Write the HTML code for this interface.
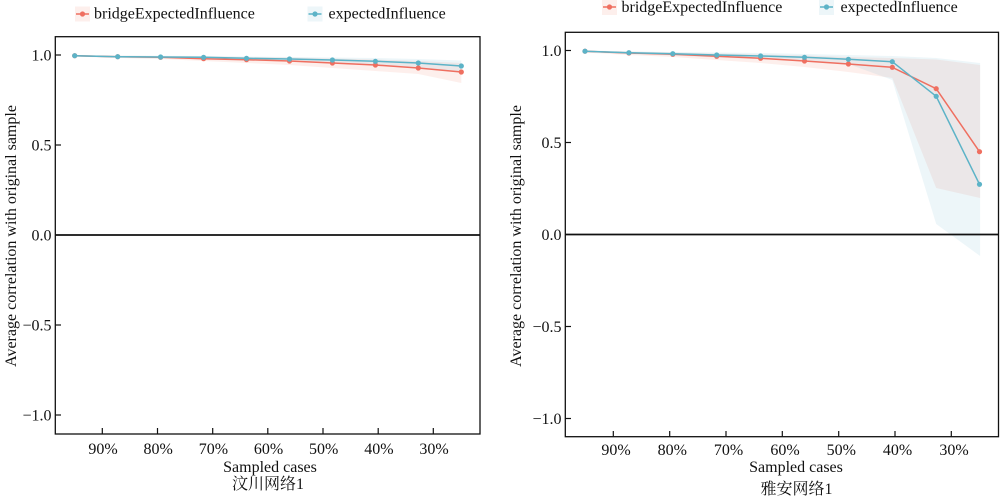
<!DOCTYPE html>
<html><head><meta charset="utf-8"><style>
html,body{margin:0;padding:0;background:#fff;}
svg{display:block;}
text{font-family:"Liberation Serif","Noto Serif CJK SC","Noto Sans CJK SC",serif;font-size:16px;fill:#111;}
</style></head><body>
<svg width="1000" height="497" viewBox="0 0 1000 497" xmlns="http://www.w3.org/2000/svg">
<!-- LEFT PANEL -->
<g>
<!-- bands -->
<polygon fill="rgba(240,120,100,0.12)" points="74.7,55 117.7,55.7 160.6,56 203.6,56.5 246.5,57 289.5,57.5 332.4,58.5 375.4,59.5 418.3,61 461.3,63 461.3,83 418.3,74 375.4,71 332.4,68 289.5,65 246.5,63 203.6,61 160.6,59 117.7,58 74.7,56.5"/>
<polygon fill="rgba(80,170,200,0.10)" points="74.7,55 117.7,55.5 160.6,55.8 203.6,56 246.5,56.5 289.5,57 332.4,57.5 375.4,58 418.3,59 461.3,60.5 461.3,72 418.3,67 375.4,65 332.4,63 289.5,61.5 246.5,60.5 203.6,59 160.6,58.5 117.7,57.8 74.7,56.5"/>
<!-- zero line -->
<line x1="55" y1="235" x2="480" y2="235" stroke="#111" stroke-width="1.8"/>
<!-- red series -->
<polyline fill="none" stroke="#EF6F60" stroke-width="1.5" points="74.7,55.7 117.7,56.7 160.6,57.3 203.6,58.7 246.5,59.7 289.5,61 332.4,63 375.4,65 418.3,68 461.3,72"/>
<g fill="#EF6F60">
<circle cx="74.7" cy="55.7" r="2.6"/><circle cx="117.7" cy="56.7" r="2.6"/><circle cx="160.6" cy="57.3" r="2.6"/><circle cx="203.6" cy="58.7" r="2.6"/><circle cx="246.5" cy="59.7" r="2.6"/><circle cx="289.5" cy="61" r="2.6"/><circle cx="332.4" cy="63" r="2.6"/><circle cx="375.4" cy="65" r="2.6"/><circle cx="418.3" cy="68" r="2.6"/><circle cx="461.3" cy="72" r="2.6"/>
</g>
<!-- blue series -->
<polyline fill="none" stroke="#5CB3C7" stroke-width="1.5" points="74.7,55.7 117.7,56.7 160.6,57 203.6,57.3 246.5,58.3 289.5,59 332.4,60 375.4,61.3 418.3,63 461.3,66"/>
<g fill="#5CB3C7">
<circle cx="74.7" cy="55.7" r="2.6"/><circle cx="117.7" cy="56.7" r="2.6"/><circle cx="160.6" cy="57" r="2.6"/><circle cx="203.6" cy="57.3" r="2.6"/><circle cx="246.5" cy="58.3" r="2.6"/><circle cx="289.5" cy="59" r="2.6"/><circle cx="332.4" cy="60" r="2.6"/><circle cx="375.4" cy="61.3" r="2.6"/><circle cx="418.3" cy="63" r="2.6"/><circle cx="461.3" cy="66" r="2.6"/>
</g>
<!-- box -->
<rect x="55.3" y="36.7" width="424.7" height="397.3" fill="none" stroke="#111" stroke-width="1.3"/>
<!-- y ticks -->
<g stroke="#111" stroke-width="1.2">
<line x1="55" y1="55" x2="61" y2="55"/><line x1="55" y1="145" x2="61" y2="145"/><line x1="55" y1="325" x2="61" y2="325"/><line x1="55" y1="415" x2="61" y2="415"/>
</g>
<g text-anchor="end">
<text x="51.5" y="60.5">1.0</text><text x="51.5" y="150.5">0.5</text><text x="51.5" y="240.5">0.0</text><text x="51.5" y="330.5">−0.5</text><text x="51.5" y="420.5">−1.0</text>
</g>
<!-- x ticks -->
<g stroke="#111" stroke-width="1.2">
<line x1="102.3" y1="434" x2="102.3" y2="428"/><line x1="157.5" y1="434" x2="157.5" y2="428"/><line x1="212.7" y1="434" x2="212.7" y2="428"/><line x1="267.8" y1="434" x2="267.8" y2="428"/><line x1="323" y1="434" x2="323" y2="428"/><line x1="378.2" y1="434" x2="378.2" y2="428"/><line x1="433.3" y1="434" x2="433.3" y2="428"/>
</g>
<g text-anchor="middle">
<text x="103" y="454">90%</text><text x="158.2" y="454">80%</text><text x="213.4" y="454">70%</text><text x="268.5" y="454">60%</text><text x="323.7" y="454">50%</text><text x="378.9" y="454">40%</text><text x="434" y="454">30%</text>
<text x="270" y="472">Sampled cases</text>
<text x="268" y="489">汶川网络1</text>
</g>
<text transform="translate(16,236) rotate(-90)" text-anchor="middle">Average correlation with original sample</text>
<!-- legend -->
<rect x="75" y="6.5" width="15" height="15" fill="rgba(240,120,100,0.12)"/>
<line x1="76" y1="14" x2="89" y2="14" stroke="#EF6F60" stroke-width="1.5"/>
<circle cx="82.5" cy="14" r="2.6" fill="#EF6F60"/>
<text x="94" y="18.5">bridgeExpectedInfluence</text>
<rect x="307.5" y="6.5" width="15" height="15" fill="rgba(80,170,200,0.10)"/>
<line x1="308.5" y1="14" x2="321.5" y2="14" stroke="#5CB3C7" stroke-width="1.5"/>
<circle cx="315" cy="14" r="2.6" fill="#5CB3C7"/>
<text x="328.5" y="18.5">expectedInfluence</text>
</g>

<!-- RIGHT PANEL -->
<g>
<polygon fill="rgba(240,120,100,0.12)" points="585,50.5 628.9,51.5 672.8,52.5 716.7,53.5 760.6,54.5 804.5,55.5 848.4,57 892.3,58 936.2,59.5 980.1,65 980.1,198 936.2,188 892.3,78 848.4,72 804.5,67 760.6,63 716.7,60 672.8,57 628.9,55 585,52.5"/>
<polygon fill="rgba(80,170,200,0.10)" points="585,50.5 628.9,51.5 672.8,52 716.7,52.5 760.6,53 804.5,54 848.4,55 892.3,56 936.2,58 980.1,63 980.1,256 936.2,224 892.3,80 848.4,64 804.5,61 760.6,59 716.7,57.5 672.8,55.5 628.9,54 585,52"/>
<line x1="565" y1="234.5" x2="999" y2="234.5" stroke="#111" stroke-width="1.8"/>
<polyline fill="none" stroke="#EF6F60" stroke-width="1.5" points="585,51.2 628.9,53 672.8,54.3 716.7,56.3 760.6,58.3 804.5,61 848.4,64 892.3,67.3 936.2,88.7 979.5,151.7"/>
<g fill="#EF6F60">
<circle cx="585" cy="51.2" r="2.6"/><circle cx="628.9" cy="53" r="2.6"/><circle cx="672.8" cy="54.3" r="2.6"/><circle cx="716.7" cy="56.3" r="2.6"/><circle cx="760.6" cy="58.3" r="2.6"/><circle cx="804.5" cy="61" r="2.6"/><circle cx="848.4" cy="64" r="2.6"/><circle cx="892.3" cy="67.3" r="2.6"/><circle cx="936.2" cy="88.7" r="2.6"/><circle cx="979.5" cy="151.7" r="2.6"/>
</g>
<polyline fill="none" stroke="#5CB3C7" stroke-width="1.5" points="585,51.2 628.9,52.7 672.8,53.7 716.7,55 760.6,56 804.5,57.3 848.4,59.3 892.3,61.7 936.2,96.3 979.5,184.3"/>
<g fill="#5CB3C7">
<circle cx="585" cy="51.2" r="2.6"/><circle cx="628.9" cy="52.7" r="2.6"/><circle cx="672.8" cy="53.7" r="2.6"/><circle cx="716.7" cy="55" r="2.6"/><circle cx="760.6" cy="56" r="2.6"/><circle cx="804.5" cy="57.3" r="2.6"/><circle cx="848.4" cy="59.3" r="2.6"/><circle cx="892.3" cy="61.7" r="2.6"/><circle cx="936.2" cy="96.3" r="2.6"/><circle cx="979.5" cy="184.3" r="2.6"/>
</g>
<rect x="565.3" y="32.3" width="433.2" height="404.4" fill="none" stroke="#111" stroke-width="1.3"/>
<g stroke="#111" stroke-width="1.2">
<line x1="565" y1="50.5" x2="571" y2="50.5"/><line x1="565" y1="142.5" x2="571" y2="142.5"/><line x1="565" y1="326.5" x2="571" y2="326.5"/><line x1="565" y1="418.5" x2="571" y2="418.5"/>
</g>
<g text-anchor="end">
<text x="561.5" y="56">1.0</text><text x="561.5" y="148">0.5</text><text x="561.5" y="240">0.0</text><text x="561.5" y="332">−0.5</text><text x="561.5" y="424">−1.0</text>
</g>
<g stroke="#111" stroke-width="1.2">
<line x1="613.3" y1="437" x2="613.3" y2="431"/><line x1="669.7" y1="437" x2="669.7" y2="431"/><line x1="726" y1="437" x2="726" y2="431"/><line x1="782.3" y1="437" x2="782.3" y2="431"/><line x1="838.7" y1="437" x2="838.7" y2="431"/><line x1="895" y1="437" x2="895" y2="431"/><line x1="951.3" y1="437" x2="951.3" y2="431"/>
</g>
<g text-anchor="middle">
<text x="616" y="455">90%</text><text x="672.3" y="455">80%</text><text x="728.6" y="455">70%</text><text x="785" y="455">60%</text><text x="841.3" y="455">50%</text><text x="897.6" y="455">40%</text><text x="954" y="455">30%</text>
<text x="796" y="472">Sampled cases</text>
<text x="796.5" y="494">雅安网络1</text>
</g>
<text transform="translate(521,236) rotate(-90)" text-anchor="middle">Average correlation with original sample</text>
<rect x="602" y="0" width="15" height="15" fill="rgba(240,120,100,0.12)"/>
<line x1="603" y1="7" x2="616" y2="7" stroke="#EF6F60" stroke-width="1.5"/>
<circle cx="609.5" cy="7" r="2.6" fill="#EF6F60"/>
<text x="621.5" y="12">bridgeExpectedInfluence</text>
<rect x="819" y="0" width="15" height="15" fill="rgba(80,170,200,0.10)"/>
<line x1="820" y1="7" x2="833" y2="7" stroke="#5CB3C7" stroke-width="1.5"/>
<circle cx="826.5" cy="7" r="2.6" fill="#5CB3C7"/>
<text x="840.5" y="12">expectedInfluence</text>
</g>
</svg>
</body></html>
